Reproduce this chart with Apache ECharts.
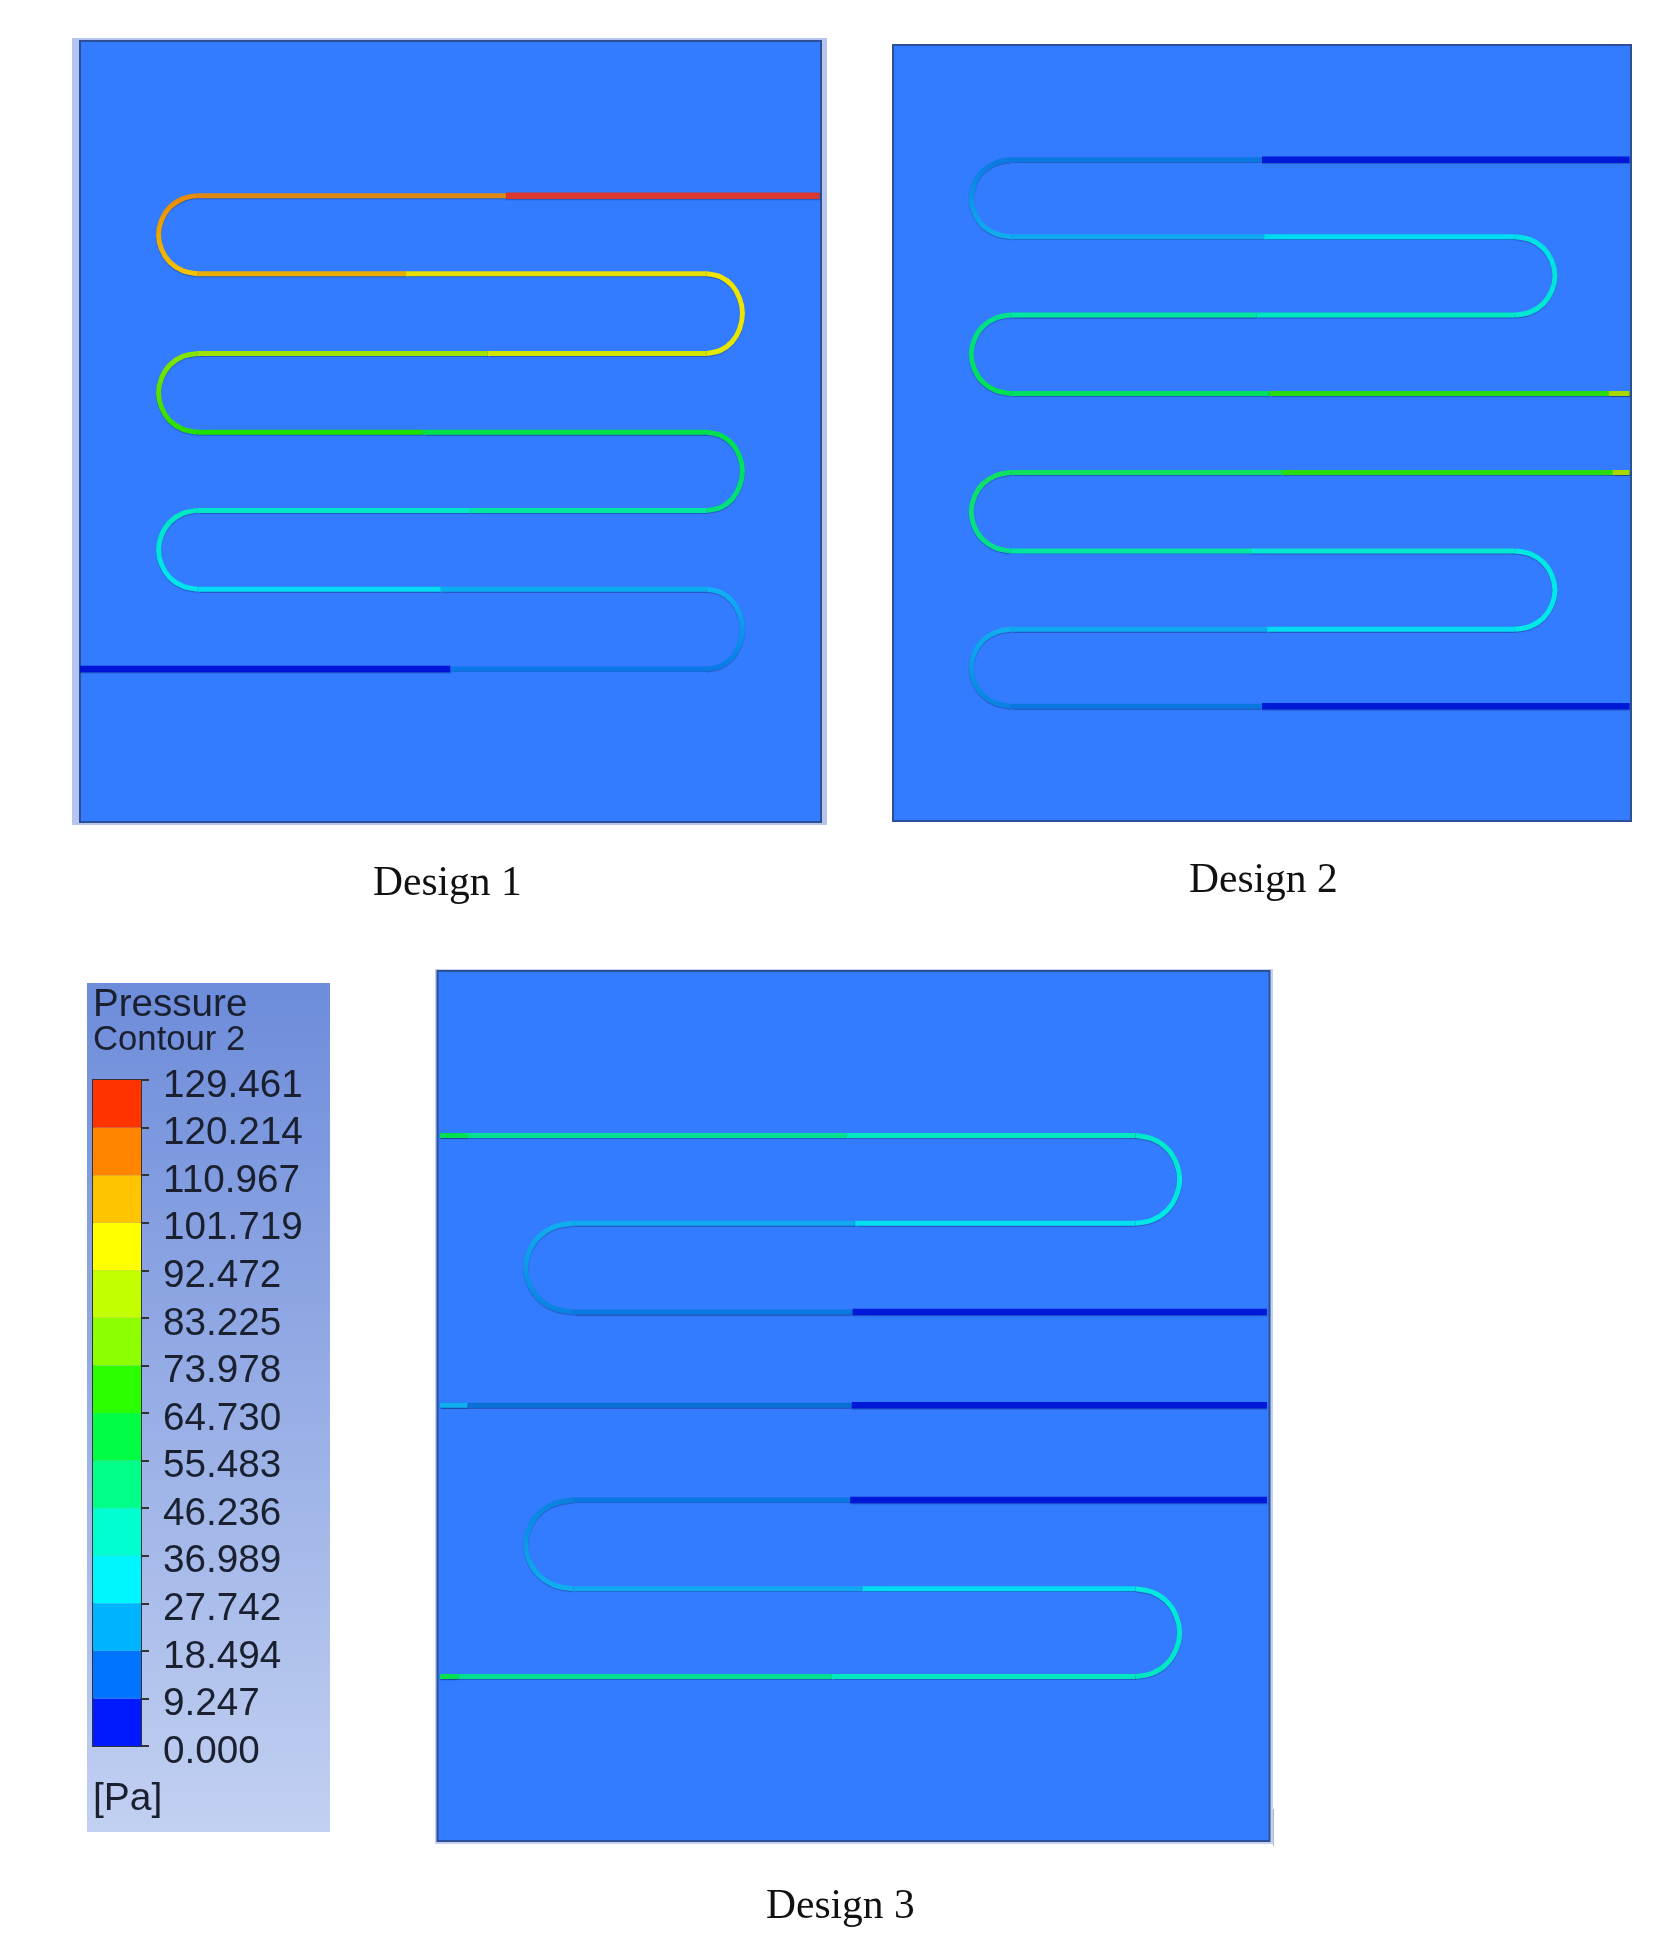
<!DOCTYPE html>
<html>
<head>
<meta charset="utf-8">
<title>Pressure contour designs</title>
<script src="https://cdn.jsdelivr.net/npm/echarts@6/dist/echarts.min.js"></script>
<style>
    html, body { margin: 0; padding: 0; background: #fff; }
    #pressureChart { width: 1676px; height: 1952px; }
</style>
</head>
<body>
<div id="pressureChart"></div>
<script>
// all channel positions are in percent of their panel (x from left, y from top)
var designNames = ['Design 1', 'Design 2', 'Design 3'];

// legend
var tickValues = [0, 9.247, 18.494, 27.742, 36.989, 46.236, 55.483, 64.730, 73.978, 83.225, 92.472, 101.719, 110.967, 120.214, 129.461];
var tickLabels = ['0.000', '9.247', '18.494', '27.742', '36.989', '46.236', '55.483', '64.730', '73.978', '83.225', '92.472', '101.719', '110.967', '120.214', '129.461'];
var bandColors = ['#0019ff', '#0073ff', '#00b3ff', '#00f6ff', '#00ffd0', '#00ff88', '#00ff44', '#2bff00', '#8cff00', '#c4ff00', '#ffff00', '#ffc400', '#ff8400', '#ff3300'];

// design 1: one serpentine channel
var d1Rows = [19.8, 29.8, 40.0, 50.1, 60.1, 70.2, 80.4];
var d1Breaks = [57.5, 44.0, 55.0, 46.3, 52.7, 48.7, 50.0];
var d1Starts = [15.9, 15.9, 15.9, 15.9, 15.9, 15.9, 0];
var d1Ends = [99.8, 84.6, 84.6, 84.6, 84.6, 84.6, 84.6];
var d1BendRows = [[0, 1], [1, 2], [2, 3], [3, 4], [4, 5], [5, 6]];
var d1BendEdges = [10.6, 89.4, 10.6, 89.4, 10.6, 89.4];
var d1BendStraight = [15.9, 84.6, 15.9, 84.6, 15.9, 84.6];
var d1LeftColors = ['#e08a14', '#e8ae00', '#9fe400', '#1fe000', '#00e8c8', '#00dcf2', '#0014d8'];
var d1RightColors = ['#dc3a30', '#e8e000', '#d2e400', '#00e04a', '#00e8a0', '#0aaef0', '#0a78e8'];
var d1BendColors = [['#e88a00', '#f5c400'], ['#f0e400', '#e4e800'], ['#8ae400', '#24e000'], ['#00e04a', '#00e080'], ['#00e8c0', '#00e4f0'], ['#10b4f4', '#0a78e8']];

// design 2: two channels from the right edge
var d2Rows = [14.8, 24.7, 34.8, 44.9, 55.1, 65.2, 75.3, 85.2];
var d2Breaks = [50.0, 50.3, 49.3, 51.0, 52.7, 48.5, 50.7, 50.0];
var d2Starts = [16, 16, 16, 16, 16, 16, 16, 16];
var d2Ends = [99.8, 84.3, 84.3, 99.8, 99.8, 84.3, 84.3, 99.8];
var d2BendRows = [[0, 1], [1, 2], [2, 3], [4, 5], [5, 6], [6, 7]];
var d2BendEdges = [10.6, 89.7, 10.6, 10.6, 89.7, 10.6];
var d2BendStraight = [16, 84.3, 16, 16, 84.3, 16];
var d2LeftColors = ['#0a78e0', '#10a8f0', '#00e8a0', '#00e060', '#10e060', '#00e8a0', '#10a8f0', '#0a78e0'];
var d2RightColors = ['#0018d8', '#00dcf0', '#00e8c0', '#28dc10', '#28dc10', '#00e8d0', '#00dcf0', '#0018d8'];
var d2BendColors = [['#0a78e0', '#10b0f0'], ['#00e0e8', '#00e8d0'], ['#00e090', '#00e050'], ['#10e060', '#00e090'], ['#00e8e0', '#00e8e8'], ['#10b0f0', '#0a80e0']];
var d2TipRows = [3, 4];
var d2TipStarts = [97, 97.5];
var d2TipEnds = [99.8, 99.8];
var d2TipColors = ['#a8d800', '#a8d800'];

// design 3: two channels from the left edge, four outlets on the right
var d3Rows = [18.9, 29.0, 39.2, 49.9, 60.8, 71.0, 81.1];
var d3Breaks = [49.2, 50.2, 49.9, 49.8, 49.6, 51.1, 47.4];
var d3Starts = [0.3, 16.3, 16.3, 0.3, 16.3, 16.3, 0.3];
var d3Ends = [83.9, 83.9, 99.7, 99.7, 99.7, 83.9, 83.9];
var d3BendRows = [[0, 1], [1, 2], [4, 5], [5, 6]];
var d3BendEdges = [89.2, 10.6, 10.6, 89.2];
var d3BendStraight = [83.9, 16.3, 16.3, 83.9];
var d3LeftColors = ['#00e090', '#10a8f0', '#0a78e0', '#0a70d8', '#0a78e0', '#10a8f0', '#00e090'];
var d3RightColors = ['#00e8c0', '#00e0f0', '#0018d8', '#0018d8', '#0018d8', '#00dcf0', '#00e8c0'];
var d3BendColors = [['#00e8c8', '#00e8e8'], ['#10b0f0', '#0a80e0'], ['#0a80e0', '#10b0f0'], ['#00e8e0', '#00e8c0']];
var d3TipRows = [0, 3, 6];
var d3TipStarts = [0.3, 0.3, 0.3];
var d3TipEnds = [3.6, 3.6, 2.5];
var d3TipColors = ['#00e050', '#10b0f0', '#00e050'];

// outline of a u-bend, 0 at the straight part and 1 at the far edge / far row
var bendReach = [0, 0.38, 0.71, 0.92, 1, 0.92, 0.71, 0.38, 0];
var bendSpan = [0, 0.038, 0.146, 0.309, 0.5, 0.691, 0.854, 0.962, 1];

var wideColors = ['#0014d8', '#0018d8', '#dc3a30'];

function lineSeries(gridIndex, data, color, smooth) {
    var width = wideColors.indexOf(color) >= 0 ? 6.5 : 5;
    return {
        type: 'line',
        xAxisIndex: gridIndex,
        yAxisIndex: gridIndex,
        data: data,
        smooth: smooth,
        showSymbol: false,
        silent: true,
        lineStyle: {
            color: color,
            width: width,
            shadowColor: 'rgba(10,30,80,0.35)',
            shadowBlur: 1,
            shadowOffsetY: 1
        }
    };
}

function designSeries(gridIndex, d) {
    var list = [];
    d.rows.forEach(function (y, i) {
        list.push(lineSeries(gridIndex, [[d.starts[i], y], [d.breaks[i], y]], d.left[i], false));
        list.push(lineSeries(gridIndex, [[d.breaks[i], y], [d.ends[i], y]], d.right[i], false));
    });
    d.bendRows.forEach(function (pair, i) {
        var yA = d.rows[pair[0]];
        var yB = d.rows[pair[1]];
        var pts = bendReach.map(function (r, k) {
            return [d.bendStraight[i] + (d.bendEdges[i] - d.bendStraight[i]) * r, yA + (yB - yA) * bendSpan[k]];
        });
        var color = new echarts.graphic.LinearGradient(0, 0, 0, 1, [
            { offset: 0, color: d.bendColors[i][0] },
            { offset: 1, color: d.bendColors[i][1] }
        ]);
        list.push(lineSeries(gridIndex, pts, color, 0.33));
    });
    (d.tipRows || []).forEach(function (row, i) {
        var y = d.rows[row];
        list.push(lineSeries(gridIndex, [[d.tipStarts[i], y], [d.tipEnds[i], y]], d.tipColors[i], false));
    });
    return list;
}

var design1 = { rows: d1Rows, breaks: d1Breaks, starts: d1Starts, ends: d1Ends, left: d1LeftColors, right: d1RightColors,
    bendRows: d1BendRows, bendEdges: d1BendEdges, bendStraight: d1BendStraight, bendColors: d1BendColors };
var design2 = { rows: d2Rows, breaks: d2Breaks, starts: d2Starts, ends: d2Ends, left: d2LeftColors, right: d2RightColors,
    bendRows: d2BendRows, bendEdges: d2BendEdges, bendStraight: d2BendStraight, bendColors: d2BendColors,
    tipRows: d2TipRows, tipStarts: d2TipStarts, tipEnds: d2TipEnds, tipColors: d2TipColors };
var design3 = { rows: d3Rows, breaks: d3Breaks, starts: d3Starts, ends: d3Ends, left: d3LeftColors, right: d3RightColors,
    bendRows: d3BendRows, bendEdges: d3BendEdges, bendStraight: d3BendStraight, bendColors: d3BendColors,
    tipRows: d3TipRows, tipStarts: d3TipStarts, tipEnds: d3TipEnds, tipColors: d3TipColors };

var panelBorder = '#2c4f96';
function panelGrid(left, top, width, height) {
    return { left: left, top: top, width: width, height: height, show: true, backgroundColor: '#337bff', borderColor: panelBorder, borderWidth: 2 };
}

var series = [].concat(designSeries(0, design1), designSeries(1, design2), designSeries(2, design3));

// legend colour bar, stacked bands on the pressure axis
bandColors.forEach(function (color, i) {
    series.push({
        type: 'bar',
        xAxisIndex: 3,
        yAxisIndex: 3,
        stack: 'bands',
        barWidth: '100%',
        silent: true,
        data: [tickValues[i + 1] - tickValues[i]],
        itemStyle: { color: color }
    });
});

function hiddenX(i) { return { type: 'value', gridIndex: i, min: 0, max: 100, show: false }; }
function hiddenY(i) { return { type: 'value', gridIndex: i, min: 0, max: 100, inverse: true, show: false }; }

var serif = '"Liberation Serif", serif';
var sans = '"Liberation Sans", Arial, sans-serif';
var legendInk = '#1a2030';
function caption(text, left, top) {
    return { text: text, left: left, top: top, textStyle: { fontFamily: serif, fontSize: 41.5, fontWeight: 'normal', color: '#111' } };
}
function legendText(text, left, top, size) {
    return { text: text, left: left, top: top, padding: 0, textStyle: { fontFamily: sans, fontSize: size, fontWeight: 'normal', color: legendInk } };
}

var option = {
    animation: false,
    backgroundColor: '#fff',
    title: [
        caption(designNames[0], 368, 858),
        caption(designNames[1], 1184, 855),
        caption(designNames[2], 761, 1881),
        legendText('Pressure', 93, 986, 38.6),
        legendText('Contour 2', 93, 1023, 34.7),
        legendText('[Pa]', 93, 1780, 39)
    ],
    grid: [
        panelGrid(80, 41, 741, 781),
        panelGrid(893, 45, 738, 776),
        panelGrid(437.5, 971, 832, 870),
        { left: 93, top: 1080, width: 48, height: 666, show: true, borderColor: '#333', borderWidth: 2, backgroundColor: 'transparent' }
    ],
    xAxis: [hiddenX(0), hiddenX(1), hiddenX(2), { type: 'category', gridIndex: 3, data: ['Pressure'], show: false }],
    yAxis: [hiddenY(0), hiddenY(1), hiddenY(2), {
        type: 'value',
        gridIndex: 3,
        min: 0,
        max: 129.461,
        position: 'right',
        axisLine: { show: false },
        splitLine: { show: false },
        axisTick: { show: true, length: 8, customValues: tickValues, lineStyle: { color: '#333', width: 2 } },
        axisLabel: {
            show: true,
            customValues: tickValues,
            margin: 22,
            align: 'left',
            // a short line box hung from the tick drops the digits just below it
            verticalAlign: 'top',
            lineHeight: 12,
            hideOverlap: false,
            fontFamily: sans,
            fontSize: 38.7,
            color: legendInk,
            formatter: function (v) {
                return tickLabels[tickValues.indexOf(v)];
            }
        }
    }],
    graphic: [
        // pale halo around the first and third panel, legend backdrop
        { type: 'rect', z: -10, shape: { x: 72, y: 38, width: 755, height: 787 }, style: { fill: '#b5c5f0' } },
        { type: 'rect', z: -10, shape: { x: 435, y: 969, width: 838, height: 875 }, style: { fill: '#c4d0f2' } },
        { type: 'rect', z: -10, shape: { x: 87, y: 983, width: 243, height: 849 }, style: {
            fill: new echarts.graphic.LinearGradient(0, 0, 0, 1, [
                { offset: 0, color: '#6d8cda' },
                { offset: 1, color: '#c2d0f1' }
            ])
        } },
        { type: 'rect', z: 5, shape: { x: 1273, y: 1809, width: 1, height: 37 }, style: { fill: '#b8b8b8' } }
    ],
    series: series
};

var chart = echarts.init(document.getElementById('pressureChart'));
chart.setOption(option);
</script>
</body>
</html>
